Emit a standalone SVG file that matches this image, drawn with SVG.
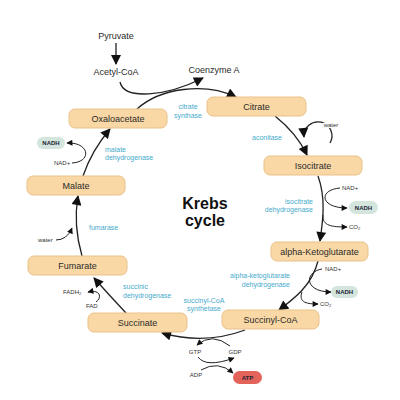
<svg xmlns="http://www.w3.org/2000/svg" width="400" height="400" viewBox="0 0 400 400">
<defs>
<style>
.box{fill:#F9D8A5;stroke:#E9C18A;stroke-width:1}
.lbl{font-family:"Liberation Sans",Arial,sans-serif;font-size:9px;fill:#2b2b2b;text-anchor:middle}
.enz{font-family:"Liberation Sans",Arial,sans-serif;font-size:7px;fill:#45AACB}
.sm{font-family:"Liberation Sans",Arial,sans-serif;font-size:6px;fill:#333}
.pill{font-family:"Liberation Sans",Arial,sans-serif;font-size:6px;font-weight:bold;fill:#223;text-anchor:middle}
.ln{fill:none;stroke:#222;stroke-width:1.3}
.lnb{fill:none;stroke:#222;stroke-width:1.3;marker-end:url(#big)}
.lns{fill:none;stroke:#222;stroke-width:1;marker-end:url(#small)}
.title{font-family:"Liberation Sans",Arial,sans-serif;font-size:16px;font-weight:bold;fill:#111;text-anchor:middle}
</style>
<marker id="big" markerUnits="userSpaceOnUse" viewBox="0 0 10 10" refX="9" refY="5" markerWidth="11" markerHeight="10" orient="auto"><path d="M0,0 L10,5 L0,10 z" fill="#111"/></marker>
<marker id="small" markerUnits="userSpaceOnUse" viewBox="0 0 10 10" refX="9" refY="5" markerWidth="7" markerHeight="6" orient="auto"><path d="M0,0 L10,5 L0,10 z" fill="#111"/></marker>
</defs>
<rect width="400" height="400" fill="#fff"/>

<g id="connectors">
<path class="lnb" d="M116,43 L116,64"/>
<path class="lnb" d="M120,82 C124,100 165,97 203,78"/>
<path class="lnb" d="M137,109 C160,88 205,82 236,97"/>
<path class="lnb" d="M275,116 C290,128 300,140 307,155"/>
<path class="lnb" d="M330,143 A14,14 0 1,0 304,137"/>
<path class="lnb" d="M318,176 C326,198 323,220 320,241"/>
<path class="lns" d="M340,188 C318,190 320,208 347,208"/>
<path class="lns" d="M323,215 C322,226 332,227 347,227"/>
<path class="lnb" d="M318,261 C312,285 295,298 279,310"/>
<path class="lns" d="M322,269 C304,272 304,292 331,292"/>
<path class="lns" d="M302,292 C298,303 308,304 318,304"/>
<path class="lnb" d="M245,330 Q205,345 162,333"/>
<path class="lns" d="M230,346 Q212,332 197,345"/>
<path class="lns" d="M198,357 Q206,368 234,358"/>
<path class="lns" d="M201,370 Q218,360 233,373"/>
<path class="lnb" d="M126,313 Q110,296 94,278"/>
<path class="lns" d="M96,302 C102,298 101,289 88,292"/>
<path class="lnb" d="M82,256 Q73,225 78,196"/>
<path class="lns" d="M56,240 Q67,240 72,228"/>
<path class="lnb" d="M83,176 Q92,150 110,129"/>
<path class="lns" d="M72,163 C92,162 90,142 67,143"/>
</g>

<g id="pyruvate"><text class="lbl" x="116" y="39">Pyruvate</text></g>
<g id="acetyl-coa"><text class="lbl" x="116" y="75">Acetyl-CoA</text></g>
<g id="coenzyme-a"><text class="lbl" x="214" y="73">Coenzyme A</text></g>

<g id="oxaloacetate"><rect class="box" x="69" y="109" width="98" height="19" rx="6"/><text class="lbl" x="118" y="122">Oxaloacetate</text></g>
<g id="citrate"><rect class="box" x="207" y="97" width="99" height="19" rx="6"/><text class="lbl" x="256.5" y="110">Citrate</text></g>
<g id="isocitrate"><rect class="box" x="264" y="156" width="98" height="19" rx="6"/><text class="lbl" x="313" y="169">Isocitrate</text></g>
<g id="alpha-ketoglutarate"><rect class="box" x="271" y="242" width="97" height="19" rx="6"/><text class="lbl" x="319.5" y="255">alpha-Ketoglutarate</text></g>
<g id="succinyl-coa"><rect class="box" x="222" y="310" width="97" height="19" rx="6"/><text class="lbl" x="270.5" y="323">Succinyl-CoA</text></g>
<g id="succinate"><rect class="box" x="88" y="313" width="99" height="19" rx="6"/><text class="lbl" x="137.5" y="326">Succinate</text></g>
<g id="fumarate"><rect class="box" x="28" y="256" width="99" height="19" rx="6"/><text class="lbl" x="77.5" y="269">Fumarate</text></g>
<g id="malate"><rect class="box" x="27" y="176" width="98" height="19" rx="6"/><text class="lbl" x="76" y="189">Malate</text></g>

<g id="krebs"><text class="title" x="205" y="209">Krebs</text><text class="title" x="205" y="226">cycle</text></g>

<g id="enzymes">
<text class="enz" x="188" y="109" text-anchor="middle">citrate</text>
<text class="enz" x="188" y="118" text-anchor="middle">synthase</text>
<text class="enz" x="267" y="140" text-anchor="middle">aconitase</text>
<text class="enz" x="313" y="204" text-anchor="end">isocitrate</text>
<text class="enz" x="313" y="212" text-anchor="end">dehydrogenase</text>
<text class="enz" x="290" y="278" text-anchor="end">alpha-ketoglutarate</text>
<text class="enz" x="290" y="287" text-anchor="end">dehydrogenase</text>
<text class="enz" x="204" y="303" text-anchor="middle">succinyl-CoA</text>
<text class="enz" x="204" y="311" text-anchor="middle">synthetase</text>
<text class="enz" x="123" y="289">succinic</text>
<text class="enz" x="123" y="298">dehydrogenase</text>
<text class="enz" x="89" y="230">fumarase</text>
<text class="enz" x="105" y="152">malate</text>
<text class="enz" x="105" y="160">dehydrogenase</text>
</g>

<g id="water-loop"><text class="sm" x="331" y="127" text-anchor="middle" stroke="#fff" stroke-width="2" paint-order="stroke">water</text></g>
<g id="nad-iso"><text class="sm" x="342" y="190">NAD+</text></g>
<g id="nadh-iso"><rect x="349" y="201" width="29" height="13" rx="6.5" fill="#D3E5DD"/><text class="pill" x="363.5" y="210">NADH</text></g>
<g id="co2-iso"><text class="sm" x="349" y="229">CO<tspan font-size="4" dy="1">2</tspan></text></g>
<g id="nad-akg"><text class="sm" x="325" y="271">NAD+</text></g>
<g id="nadh-akg"><rect x="331" y="286" width="27" height="12" rx="6" fill="#D3E5DD"/><text class="pill" x="344.5" y="294">NADH</text></g>
<g id="co2-akg"><text class="sm" x="320" y="306">CO<tspan font-size="4" dy="1">2</tspan></text></g>
<g id="gtp"><text class="sm" x="195" y="354" text-anchor="middle">GTP</text></g>
<g id="gdp"><text class="sm" x="235" y="354" text-anchor="middle">GDP</text></g>
<g id="adp"><text class="sm" x="196" y="377" text-anchor="middle">ADP</text></g>
<g id="atp"><rect x="233" y="371" width="29" height="13" rx="6.5" fill="#E3635A"/><text class="pill" x="247.5" y="380">ATP</text></g>
<g id="fadh2"><text class="sm" x="63" y="294">FADH<tspan font-size="4" dy="1">2</tspan></text></g>
<g id="fad"><text class="sm" x="86" y="308">FAD</text></g>
<g id="water-fum"><text class="sm" x="38" y="242">water</text></g>
<g id="nad-mal"><text class="sm" x="54" y="165">NAD+</text></g>
<g id="nadh-mal"><rect x="37" y="137" width="28" height="12" rx="6" fill="#D3E5DD"/><text class="pill" x="51" y="145">NADH</text></g>
</svg>
